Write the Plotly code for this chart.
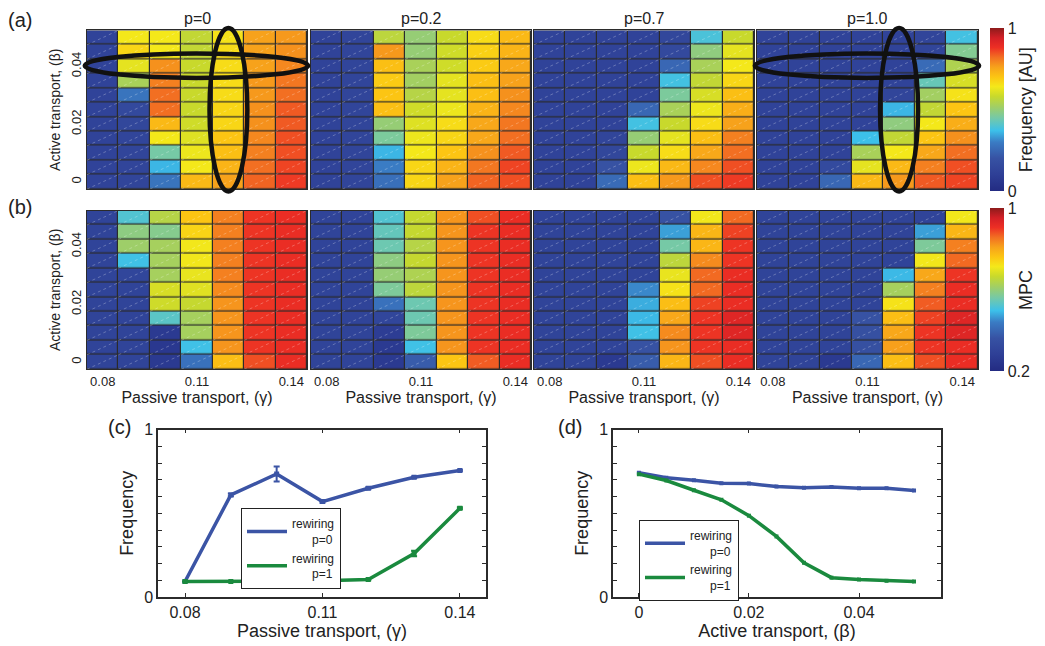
import plotly.graph_objects as go

W, H = 1045, 646

# ---------------- data ----------------
gamma = [0.08, 0.09, 0.10, 0.11, 0.12, 0.13, 0.14]
beta_desc = [0.05, 0.045, 0.04, 0.035, 0.03, 0.025, 0.02, 0.015, 0.01, 0.005, 0.0]
p_titles = ["p=0", "p=0.2", "p=0.7", "p=1.0"]

# (a) Frequency [AU], rows from beta=0.05 (top) to beta=0 (bottom)
freq_p0 = [
    [0.12, 0.64, 0.64, 0.57, 0.65, 0.76, 0.77],
    [0.12, 0.67, 0.64, 0.57, 0.66, 0.76, 0.78],
    [0.12, 0.62, 0.78, 0.58, 0.66, 0.76, 0.79],
    [0.12, 0.53, 0.80, 0.58, 0.66, 0.77, 0.81],
    [0.12, 0.28, 0.82, 0.58, 0.66, 0.77, 0.82],
    [0.12, 0.15, 0.82, 0.58, 0.67, 0.78, 0.84],
    [0.12, 0.14, 0.72, 0.59, 0.67, 0.78, 0.84],
    [0.12, 0.13, 0.64, 0.61, 0.70, 0.79, 0.85],
    [0.12, 0.13, 0.45, 0.63, 0.71, 0.80, 0.85],
    [0.12, 0.13, 0.36, 0.64, 0.73, 0.82, 0.86],
    [0.12, 0.13, 0.28, 0.72, 0.76, 0.83, 0.87],
]
freq_p02 = [
    [0.12, 0.13, 0.56, 0.50, 0.58, 0.66, 0.72],
    [0.12, 0.13, 0.77, 0.50, 0.59, 0.68, 0.73],
    [0.12, 0.13, 0.71, 0.53, 0.59, 0.69, 0.75],
    [0.12, 0.13, 0.69, 0.52, 0.62, 0.71, 0.76],
    [0.12, 0.13, 0.70, 0.55, 0.62, 0.71, 0.78],
    [0.12, 0.13, 0.71, 0.59, 0.63, 0.73, 0.79],
    [0.12, 0.13, 0.50, 0.61, 0.66, 0.75, 0.81],
    [0.12, 0.13, 0.46, 0.63, 0.67, 0.75, 0.82],
    [0.12, 0.13, 0.36, 0.64, 0.70, 0.78, 0.84],
    [0.12, 0.13, 0.30, 0.67, 0.73, 0.81, 0.86],
    [0.12, 0.13, 0.27, 0.67, 0.76, 0.83, 0.85],
]
freq_p07 = [
    [0.12, 0.12, 0.12, 0.12, 0.14, 0.39, 0.58],
    [0.12, 0.12, 0.12, 0.12, 0.15, 0.49, 0.62],
    [0.12, 0.12, 0.12, 0.12, 0.25, 0.53, 0.64],
    [0.12, 0.12, 0.12, 0.12, 0.38, 0.57, 0.67],
    [0.12, 0.12, 0.12, 0.12, 0.46, 0.60, 0.71],
    [0.12, 0.12, 0.12, 0.25, 0.53, 0.63, 0.74],
    [0.12, 0.12, 0.12, 0.38, 0.58, 0.66, 0.76],
    [0.12, 0.12, 0.13, 0.50, 0.62, 0.71, 0.80],
    [0.12, 0.12, 0.14, 0.58, 0.66, 0.75, 0.82],
    [0.12, 0.12, 0.20, 0.63, 0.72, 0.79, 0.85],
    [0.12, 0.12, 0.26, 0.71, 0.77, 0.85, 0.87],
]
freq_p10 = [
    [0.12, 0.12, 0.12, 0.12, 0.12, 0.13, 0.38],
    [0.12, 0.12, 0.12, 0.12, 0.12, 0.13, 0.47],
    [0.12, 0.12, 0.12, 0.12, 0.12, 0.26, 0.54],
    [0.12, 0.12, 0.12, 0.12, 0.12, 0.43, 0.60],
    [0.12, 0.12, 0.12, 0.12, 0.13, 0.52, 0.65],
    [0.12, 0.12, 0.12, 0.12, 0.36, 0.57, 0.70],
    [0.12, 0.12, 0.12, 0.12, 0.49, 0.64, 0.74],
    [0.12, 0.12, 0.12, 0.37, 0.57, 0.70, 0.78],
    [0.12, 0.12, 0.12, 0.53, 0.64, 0.75, 0.82],
    [0.12, 0.12, 0.16, 0.62, 0.72, 0.80, 0.85],
    [0.12, 0.12, 0.25, 0.72, 0.77, 0.84, 0.86],
]

# (b) MPC, rows from beta=0.05 (top) to beta=0 (bottom)
mpc_p0 = [
    [0.30, 0.52, 0.64, 0.76, 0.84, 0.90, 0.91],
    [0.30, 0.59, 0.58, 0.74, 0.84, 0.90, 0.91],
    [0.30, 0.61, 0.62, 0.71, 0.84, 0.90, 0.91],
    [0.30, 0.50, 0.62, 0.71, 0.84, 0.90, 0.91],
    [0.30, 0.31, 0.62, 0.70, 0.84, 0.90, 0.91],
    [0.30, 0.30, 0.68, 0.69, 0.83, 0.90, 0.91],
    [0.30, 0.30, 0.67, 0.66, 0.82, 0.90, 0.91],
    [0.30, 0.30, 0.53, 0.62, 0.82, 0.90, 0.91],
    [0.30, 0.30, 0.26, 0.62, 0.82, 0.90, 0.91],
    [0.30, 0.30, 0.25, 0.50, 0.82, 0.90, 0.91],
    [0.30, 0.30, 0.26, 0.42, 0.77, 0.88, 0.91],
]
mpc_p02 = [
    [0.30, 0.30, 0.52, 0.66, 0.82, 0.88, 0.91],
    [0.30, 0.30, 0.54, 0.66, 0.82, 0.90, 0.91],
    [0.30, 0.30, 0.55, 0.64, 0.82, 0.90, 0.91],
    [0.30, 0.30, 0.59, 0.66, 0.82, 0.90, 0.91],
    [0.30, 0.30, 0.60, 0.63, 0.82, 0.90, 0.91],
    [0.30, 0.30, 0.57, 0.65, 0.82, 0.90, 0.91],
    [0.30, 0.30, 0.42, 0.55, 0.82, 0.90, 0.91],
    [0.30, 0.30, 0.31, 0.55, 0.82, 0.90, 0.91],
    [0.30, 0.30, 0.27, 0.57, 0.82, 0.90, 0.91],
    [0.30, 0.30, 0.26, 0.50, 0.82, 0.90, 0.91],
    [0.30, 0.30, 0.26, 0.38, 0.76, 0.87, 0.91],
]
mpc_p07 = [
    [0.30, 0.30, 0.30, 0.30, 0.36, 0.71, 0.86],
    [0.30, 0.30, 0.30, 0.30, 0.47, 0.78, 0.89],
    [0.30, 0.30, 0.30, 0.30, 0.56, 0.78, 0.90],
    [0.30, 0.30, 0.30, 0.30, 0.65, 0.83, 0.90],
    [0.30, 0.30, 0.30, 0.30, 0.70, 0.86, 0.91],
    [0.30, 0.30, 0.30, 0.45, 0.72, 0.86, 0.91],
    [0.30, 0.30, 0.30, 0.48, 0.77, 0.89, 0.91],
    [0.30, 0.30, 0.30, 0.49, 0.80, 0.90, 0.93],
    [0.30, 0.30, 0.30, 0.50, 0.83, 0.90, 0.93],
    [0.30, 0.30, 0.30, 0.36, 0.82, 0.90, 0.91],
    [0.30, 0.30, 0.26, 0.38, 0.78, 0.88, 0.91],
]
mpc_p10 = [
    [0.30, 0.30, 0.30, 0.30, 0.30, 0.30, 0.71],
    [0.30, 0.30, 0.30, 0.30, 0.30, 0.47, 0.78],
    [0.30, 0.30, 0.30, 0.30, 0.30, 0.57, 0.84],
    [0.30, 0.30, 0.30, 0.30, 0.30, 0.71, 0.86],
    [0.30, 0.30, 0.30, 0.30, 0.49, 0.80, 0.90],
    [0.30, 0.30, 0.30, 0.30, 0.62, 0.84, 0.91],
    [0.30, 0.30, 0.30, 0.30, 0.72, 0.87, 0.91],
    [0.30, 0.30, 0.30, 0.36, 0.77, 0.89, 0.93],
    [0.30, 0.30, 0.30, 0.35, 0.80, 0.90, 0.93],
    [0.30, 0.30, 0.30, 0.35, 0.81, 0.90, 0.91],
    [0.30, 0.30, 0.26, 0.40, 0.77, 0.88, 0.91],
]

# (c) frequency vs passive transport
c_gamma = [0.08, 0.09, 0.10, 0.11, 0.12, 0.13, 0.14]
c_p0 = [0.093, 0.61, 0.735, 0.57, 0.65, 0.715, 0.756]
c_p0_err = [0.0, 0.008, 0.045, 0.006, 0.006, 0.005, 0.005]
c_p1 = [0.093, 0.093, 0.093, 0.097, 0.105, 0.26, 0.53]
c_p1_err = [0.0, 0.0, 0.0, 0.0, 0.004, 0.016, 0.006]

# (d) frequency vs active transport
d_beta = [0.0, 0.005, 0.01, 0.015, 0.02, 0.025, 0.03, 0.035, 0.04, 0.045, 0.05]
d_p0 = [0.742, 0.713, 0.698, 0.68, 0.678, 0.66, 0.653, 0.657, 0.65, 0.65, 0.636]
d_p1 = [0.734, 0.696, 0.638, 0.581, 0.486, 0.362, 0.205, 0.116, 0.105, 0.097, 0.093]

# highlighted cuts (ellipses) in panel (a)
highlight_beta = 0.04
highlight_gamma = 0.12

# ---------------- styling ----------------
colorscale = [
    [0.00, "#232b82"], [0.10, "#2e3f96"], [0.20, "#3752a3"], [0.30, "#3a7cc4"],
    [0.37, "#3cc0ea"], [0.45, "#76c9a6"], [0.52, "#a3cf62"], [0.58, "#c8d92c"],
    [0.64, "#f4e81a"], [0.70, "#fcc513"], [0.76, "#f7a21b"], [0.82, "#f26f22"],
    [0.88, "#ed2f24"], [0.94, "#d21f26"], [1.00, "#8e1b1b"],
]
FONT = "Liberation Sans, Arial, sans-serif"
BLUE = "#3b54a5"
GREEN = "#1a8a3e"
EDGE = "#2b2b2b"

def px_x(p):
    return p / W

def px_y(p):
    return 1 - p / H

hm_x = [(87, 307), (311, 531), (534, 754), (757, 978)]
hm_a_y = (23, 186)
hm_b_y = (208, 371)

fig = go.Figure()
layout = {}

xr = [gamma[0] - 0.005, gamma[-1] + 0.005]
yr = [beta_desc[-1] - 0.0025, beta_desc[0] + 0.0025]

freq_sets = [freq_p0, freq_p02, freq_p07, freq_p10]
mpc_sets = [mpc_p0, mpc_p02, mpc_p07, mpc_p10]

shapes = []
annotations = []

# diagonal hatch segments (computed from grid)
def hatch(xs, ys):
    hx, hy = [], []
    for yv in ys:
        for xv in xs:
            hx += [xv - 0.005, xv + 0.005, None]
            hy += [yv - 0.0025, yv + 0.0025, None]
    return hx, hy

hx, hy = hatch(gamma, beta_desc)

ax = 1
for row, (sets, yb, cax) in enumerate([(freq_sets, hm_a_y, "coloraxis"), (mpc_sets, hm_b_y, "coloraxis2")]):
    for i, z in enumerate(sets):
        xa = "x" if ax == 1 else f"x{ax}"
        ya = "y" if ax == 1 else f"y{ax}"
        fig.add_trace(go.Heatmap(x=gamma, y=beta_desc, z=z, coloraxis=cax, xgap=1.2, ygap=1.2,
                                 xaxis=xa, yaxis=ya, hoverinfo="z", showlegend=False))
        fig.add_trace(go.Scatter(x=hx, y=hy, mode="lines", xaxis=xa, yaxis=ya,
                                 line=dict(color="rgba(255,255,255,0.45)", width=0.6, dash="dot"),
                                 hoverinfo="skip", showlegend=False))
        x0, x1 = hm_x[i]
        xaxis = dict(domain=[px_x(x0), px_x(x1)], anchor=ya, range=xr, showgrid=False, zeroline=False,
                     showline=True, linecolor=EDGE, linewidth=1.2, mirror=True, ticks="",
                     tickvals=[0.08, 0.11, 0.14], ticktext=["0.08", "0.11", "0.14"],
                     showticklabels=(row == 1), tickfont=dict(size=13, family=FONT, color="#222"))
        if row == 1:
            xaxis["title"] = dict(text="Passive transport, (γ)", font=dict(size=16, family=FONT, color="#222"), standoff=2)
        yaxis = dict(domain=[px_y(yb[1]), px_y(yb[0])], anchor=xa, range=yr, showgrid=False, zeroline=False,
                     showline=True, linecolor=EDGE, linewidth=1.2, mirror=True, ticks="",
                     tickvals=[0, 0.02, 0.04], ticktext=["0", "0.02", "0.04"], tickangle=-90,
                     showticklabels=(i == 0), tickfont=dict(size=13, family=FONT, color="#222"))
        if i == 0:
            yaxis["title"] = dict(text="Active transport, (β)", font=dict(size=14, family=FONT, color="#222"), standoff=4)
        layout["xaxis" if ax == 1 else f"xaxis{ax}"] = xaxis
        layout["yaxis" if ax == 1 else f"yaxis{ax}"] = yaxis
        # dark cell borders
        shapes.append(dict(type="rect", xref=f"{xa} domain", yref=f"{ya} domain", x0=0, x1=1, y0=0, y1=1,
                           fillcolor=EDGE, line=dict(width=0), layer="below"))
        if row == 0:
            annotations.append(dict(text=p_titles[i], x=(x0 + x1) / 2 / W, y=px_y(11), xref="paper", yref="paper",
                                    showarrow=False, font=dict(size=16, family=FONT, color="#222"),
                                    xanchor="center", yanchor="middle"))
            if i in (0, 3):
                # ellipses marking the cuts
                fb = (highlight_beta - yr[0]) / (yr[1] - yr[0])
                fg = (highlight_gamma - xr[0]) / (xr[1] - xr[0])
                shapes.append(dict(type="circle", xref=f"{xa} domain", yref=f"{ya} domain",
                                   x0=-0.01, x1=1.005, y0=fb - 0.072, y1=fb + 0.082,
                                   line=dict(color="#111", width=4.5)))
                shapes.append(dict(type="circle", xref=f"{xa} domain", yref=f"{ya} domain",
                                   x0=fg - 0.086, x1=fg + 0.086, y0=-0.015, y1=1.015,
                                   line=dict(color="#111", width=4.5)))
        ax += 1

# colour axes
layout["coloraxis"] = dict(cmin=0, cmax=1, colorscale=colorscale,
                           colorbar=dict(x=px_x(990), xanchor="left", y=px_y(104.5), yanchor="middle",
                                         len=163, lenmode="pixels", thickness=14, xpad=0, ypad=0,
                                         outlinewidth=0, tickvals=[0, 1], ticktext=["0", "1"], ticks="",
                                         tickfont=dict(size=16, family=FONT, color="#222"),
                                         title=dict(text="Frequency [AU]", side="right",
                                                    font=dict(size=18, family=FONT, color="#222"))))
layout["coloraxis2"] = dict(cmin=0.2, cmax=1, colorscale=colorscale,
                            colorbar=dict(x=px_x(990), xanchor="left", y=px_y(289.5), yanchor="middle",
                                          len=163, lenmode="pixels", thickness=14, xpad=0, ypad=0,
                                          outlinewidth=0, tickvals=[0.2, 1], ticktext=["0.2", "1"], ticks="",
                                          tickfont=dict(size=16, family=FONT, color="#222"),
                                          title=dict(text="MPC", side="right",
                                                     font=dict(size=18, family=FONT, color="#222"))))

# ---------------- line panels ----------------
ytv = [round(0.1 * k, 1) for k in range(11)]
ytt = ["0"] + [""] * 9 + ["1"]

def line_axes(xdom, xrange, xticks, xtext, xtitle, xa, ya):
    xaxis = dict(domain=xdom, anchor=ya, range=xrange, showgrid=False, zeroline=False, showline=True,
                 linecolor=EDGE, linewidth=1.5, mirror="allticks", ticks="inside", ticklen=4,
                 tickcolor=EDGE, tickvals=xticks, ticktext=xtext,
                 tickfont=dict(size=16, family=FONT, color="#222"),
                 title=dict(text=xtitle, font=dict(size=18, family=FONT, color="#222"), standoff=0))
    yaxis = dict(domain=[px_y(605), px_y(433)], anchor=xa, range=[0, 1], showgrid=False, zeroline=False,
                 showline=True, linecolor=EDGE, linewidth=1.5, mirror="allticks", ticks="inside",
                 ticklen=4, tickcolor=EDGE, tickvals=ytv, ticktext=ytt,
                 tickfont=dict(size=16, family=FONT, color="#222"),
                 title=dict(text="Frequency", font=dict(size=18, family=FONT, color="#222"), standoff=6))
    return xaxis, yaxis

lx, ly = line_axes([px_x(158), px_x(486)], [0.0741, 0.1457], [0.08, 0.11, 0.14], ["0.08", "0.11", "0.14"],
                   "Passive transport, (γ)", "x9", "y9")
layout["xaxis9"], layout["yaxis9"] = lx, ly
lx, ly = line_axes([px_x(613), px_x(941)], [-0.0047, 0.0549], [0, 0.02, 0.04], ["0", "0.02", "0.04"],
                   "Active transport, (β)", "x10", "y10")
layout["xaxis10"], layout["yaxis10"] = lx, ly

legend_name0 = "rewiring<br>\u00a0\u00a0\u00a0\u00a0\u00a0\u00a0p=0"
legend_name1 = "rewiring<br>\u00a0\u00a0\u00a0\u00a0\u00a0\u00a0p=1"

def add_series(x, y, err, color, name, xa, ya, leg, msize):
    # line (shown in legend)
    fig.add_trace(go.Scatter(x=x, y=y, mode="lines", name=name, xaxis=xa, yaxis=ya,
                             line=dict(color=color, width=3.5), legend=leg, showlegend=True))
    # markers + error bars (not in legend)
    kw = {}
    if err is not None:
        kw["error_y"] = dict(type="data", array=err, color=color, thickness=2, width=3)
    fig.add_trace(go.Scatter(x=x, y=y, mode="markers", xaxis=xa, yaxis=ya, showlegend=False,
                             marker=dict(symbol="square", size=msize, color=color), **kw))

add_series(c_gamma, c_p0, c_p0_err, BLUE, legend_name0, "x9", "y9", "legend", 5)
add_series(c_gamma, c_p1, c_p1_err, GREEN, legend_name1, "x9", "y9", "legend", 5)
add_series(d_beta, d_p0, None, BLUE, legend_name0, "x10", "y10", "legend2", 4)
add_series(d_beta, d_p1, None, GREEN, legend_name1, "x10", "y10", "legend2", 4)

leg_common = dict(bgcolor="white", bordercolor="#222", borderwidth=1,
                  font=dict(size=12, family=FONT, color="#222"), itemwidth=40,
                  xanchor="left", yanchor="top", tracegroupgap=0)
layout["legend"] = dict(x=px_x(241), y=px_y(514), **leg_common)
layout["legend2"] = dict(x=px_x(639), y=px_y(526), **leg_common)

# panel labels
for txt, x, y in [("(a)", 6, 12), ("(b)", 6, 204), ("(c)", 106, 430), ("(d)", 556, 430)]:
    annotations.append(dict(text=txt, x=px_x(x), y=px_y(y), xref="paper", yref="paper", showarrow=False,
                            xanchor="left", yanchor="middle", font=dict(size=20, family=FONT, color="#222")))

fig.update_layout(width=W, height=H, margin=dict(l=0, r=0, t=0, b=0), paper_bgcolor="white",
                  plot_bgcolor="white", shapes=shapes, annotations=annotations,
                  font=dict(family=FONT, color="#222"), **layout)

fig.write_html("out.html")
